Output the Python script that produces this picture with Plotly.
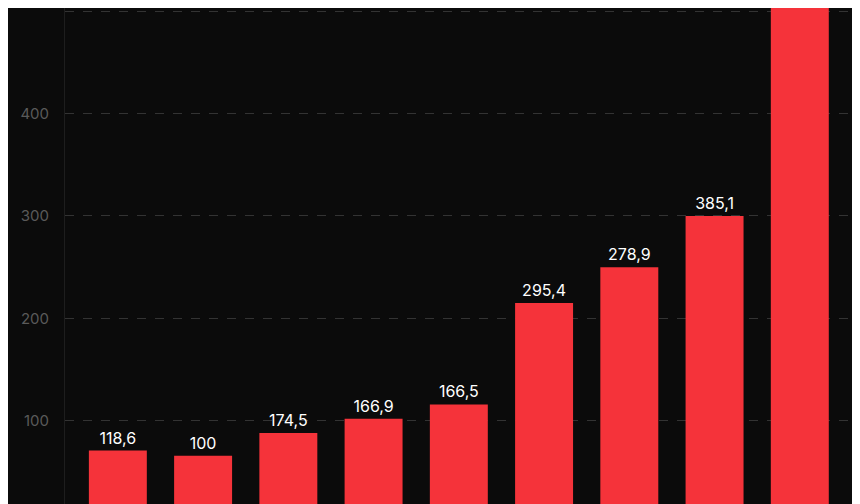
import plotly.graph_objects as go

categories = ["A", "B", "C", "D", "E", "F", "G", "H", "I"]
bar_values = [71, 66, 88, 102, 116, 215, 250, 300, 560]
labels = ["118,6", "100", "174,5", "166,9", "166,5", "295,4", "278,9", "385,1", ""]

fig = go.Figure(go.Bar(
    x=categories, y=bar_values, text=labels, textposition="outside",
    textfont=dict(color="#ffffff", size=16, family="Inter"),
    marker=dict(color="#f5333a", line=dict(width=0)), width=0.68,
    cliponaxis=True,
))
fig.update_layout(
    width=860, height=504, margin=dict(l=57, r=0, t=0, b=0, pad=0, autoexpand=False),
    paper_bgcolor="#0b0b0b", plot_bgcolor="#0b0b0b", showlegend=False,
    xaxis=dict(range=[-0.62, 8.8], showticklabels=False, showgrid=False, zeroline=False),
    yaxis=dict(range=[11, 503], tickvals=[100, 200, 300, 400, 500], gridcolor="#333333",
               griddash="dash", gridwidth=1, zeroline=False, showline=True, linecolor="#1e1e1e",
               tickfont=dict(color="#5a5a5a", size=15, family="Inter"), ticklabelstandoff=12),
)
fig.write_html("out.html")
